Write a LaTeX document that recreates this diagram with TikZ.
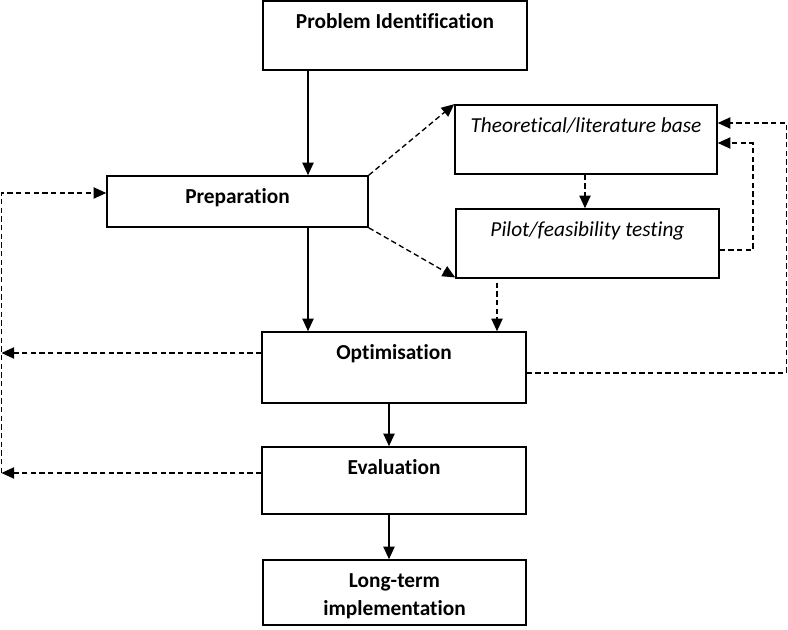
\documentclass[tikz,border=0pt]{standalone}
\usepackage{fontspec}
\setmainfont[RawFeature={-liga;-clig;-dlig;-calt}]{Carlito}
\usetikzlibrary{arrows.meta}
\begin{document}
\begin{tikzpicture}[x=0.75pt,y=-0.75pt,
  box/.style={draw, line width=1.2pt, inner sep=0pt},
  lbl/.style={font=\fontsize{16}{21}\selectfont\bfseries, align=center, inner sep=0pt},
  ilbl/.style={font=\fontsize{16}{21}\selectfont\itshape, align=center, inner sep=0pt},
  solidarr/.style={line width=1.1pt, -{Triangle[length=9.5pt,width=8.5pt]}},
  dasharr/.style={line width=1pt, dash pattern=on 4pt off 2.5pt, -{Triangle[length=9.5pt,width=8.5pt]}}]
\useasboundingbox[fill=white] (0,0) rectangle (788,630);
% boxes
\node[box, minimum width=198pt, minimum height=51.75pt] (pi) at (395,35.5) {};
\node[box, minimum width=195.75pt, minimum height=38.25pt] (prep) at (237.5,201.5) {};
\node[box, minimum width=196.5pt, minimum height=51.75pt] (theo) at (586,139.5) {};
\node[box, minimum width=197.25pt, minimum height=51.75pt] (pilot) at (587.5,243.5) {};
\node[box, minimum width=198pt, minimum height=53.25pt] (opt) at (394,367.5) {};
\node[box, minimum width=198pt, minimum height=50.25pt] (eval) at (394,480.5) {};
\node[box, minimum width=197.25pt, minimum height=48.75pt] (lt) at (394.5,592.5) {};
% texts
\node[lbl, anchor=base] (piT) at ([yshift=-21pt]pi.north) {Problem Identification};
\node[lbl, anchor=base] (prepT) at ([yshift=-21pt]prep.north) {Preparation};
\node[ilbl, anchor=base] (theoT) at ([yshift=-21pt]theo.north) {Theoretical/literature base};
\node[ilbl, anchor=base] (pilotT) at ([yshift=-21pt]pilot.north) {Pilot/feasibility testing};
\node[lbl, anchor=base] (optT) at ([yshift=-21pt]opt.north) {Optimisation};
\node[lbl, anchor=base] (evalT) at ([yshift=-21pt]eval.north) {Evaluation};
\node[lbl, anchor=north] (ltT) at ([yshift=-11pt]lt.north) {Long-term\\implementation};
% helper coordinates
\coordinate (c308) at (308,0);
\coordinate (c389) at (389,0);
\coordinate (c585) at (585,0);
\coordinate (c497) at (497,0);
\coordinate (L0) at (1.5,193);
\coordinate (L1) at (1.5,353);
\coordinate (L2) at (1.5,473);
\coordinate (R1) at (753,250);
\coordinate (R1b) at (753,143);
\coordinate (R2) at (786.5,373);
\coordinate (R2b) at (786.5,123);
% solid connectors
\draw[solidarr] (pi.south -| c308) -- (prep.north -| c308);
\draw[solidarr] (prep.south -| c308) -- (opt.north -| c308);
\draw[solidarr] (opt.south -| c389) -- (eval.north -| c389);
\draw[solidarr] (eval.south -| c389) -- (lt.north -| c389);
% dashed connectors
\draw[dasharr] (prep.north east) -- (theo.north west);
\draw[dasharr] (prep.south east) -- ([yshift=1pt]pilot.south west);
\draw[dasharr] (theo.south -| c585) -- (pilot.north -| c585);
\draw[dasharr] ([yshift=-3pt]pilot.south -| c497) -- (opt.north -| c497);
\draw[dasharr] (R1 -| pilot.east) -- (R1) -- (R1b) -- (R1b -| theo.east);
\draw[dasharr] (R2 -| opt.east) -- (R2) -- (R2b) -- (R2b -| theo.east);
\draw[dasharr] (L1 -| opt.west) -- (L1);
\draw[dasharr] (L2 -| eval.west) -- (L2);
\draw[dasharr] (L2) -- (L0) -- (L0 -| prep.west);
\end{tikzpicture}
\end{document}
